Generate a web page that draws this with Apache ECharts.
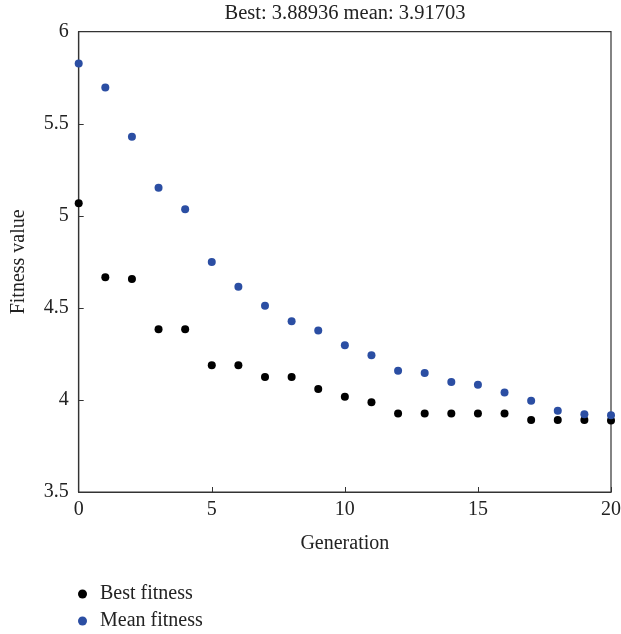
<!DOCTYPE html>
<html><head><meta charset="utf-8">
<script src="https://cdn.jsdelivr.net/npm/echarts@6/dist/echarts.min.js"></script>
<style>html,body{margin:0;padding:0;background:#fff}#c{width:621px;height:634px}</style>
</head><body><div id="c"></div>
<script>
const generations = [0,1,2,3,4,5,6,7,8,9,10,11,12,13,14,15,16,17,18,19,20];
const bestFitness = [5.068,4.667,4.657,4.384,4.384,4.189,4.189,4.124,4.124,4.059,4.017,3.987,3.927,3.927,3.927,3.927,3.927,3.891,3.891,3.891,3.889];
const meanFitness = [5.827,5.697,5.430,5.153,5.036,4.749,4.615,4.512,4.427,4.377,4.297,4.243,4.158,4.146,4.097,4.082,4.041,3.996,3.941,3.922,3.917];
const legendNames = ['Best fitness','Mean fitness'];
const titleText = 'Best: 3.88936 mean: 3.91703';
const font = 'Liberation Serif';
const fs = 20;
const chart = echarts.init(document.getElementById('c'));
chart.setOption({
  animation:false,
  title:{text:titleText,left:345,textAlign:'center',top:3,padding:0,textStyle:{fontFamily:font,fontSize:20.5,fontWeight:'normal',color:'#222'}},
  grid:{left:78.7,right:10,top:31.7,bottom:142,show:true,borderColor:'#333',borderWidth:1.2,containLabel:false,outerBoundsMode:'none'},
  xAxis:{type:'value',min:0,max:20,interval:5,name:'Generation',nameLocation:'middle',nameGap:42,
    nameTextStyle:{fontFamily:font,fontSize:fs,color:'#222'},
    axisLine:{lineStyle:{color:'#333',width:1.2}},axisTick:{inside:true,length:5,lineStyle:{color:'#333'}},
    axisLabel:{fontFamily:font,fontSize:fs,color:'#222',margin:8},splitLine:{show:false}},
  yAxis:{type:'value',min:3.5,max:6,interval:0.5,name:'Fitness value',nameLocation:'middle',nameGap:50,
    nameTextStyle:{fontFamily:font,fontSize:fs,color:'#222'},
    axisLine:{show:true,lineStyle:{color:'#333',width:1.2}},axisTick:{show:true,inside:true,length:5,lineStyle:{color:'#333'}},
    axisLabel:{fontFamily:font,fontSize:fs,color:'#222',margin:10},splitLine:{show:false}},
  legend:[
    {left:78,top:584,padding:0,itemWidth:9,itemHeight:9,textStyle:{fontFamily:font,fontSize:fs,color:'#222',padding:[0,0,0,8]},
     data:[{name:legendNames[0],icon:'circle'}]},
    {left:78,top:611,padding:0,itemWidth:9,itemHeight:9,textStyle:{fontFamily:font,fontSize:fs,color:'#222',padding:[0,0,0,8]},
     data:[{name:legendNames[1],icon:'circle'}]}
  ],
  series:[
    {name:legendNames[0],type:'scatter',symbolSize:8,itemStyle:{color:'#000',opacity:1},data:generations.map((g,i)=>[g,bestFitness[i]])},
    {name:legendNames[1],type:'scatter',symbolSize:8,itemStyle:{color:'#2b4ea3',opacity:1},data:generations.map((g,i)=>[g,meanFitness[i]])}
  ]
});
</script></body></html>
